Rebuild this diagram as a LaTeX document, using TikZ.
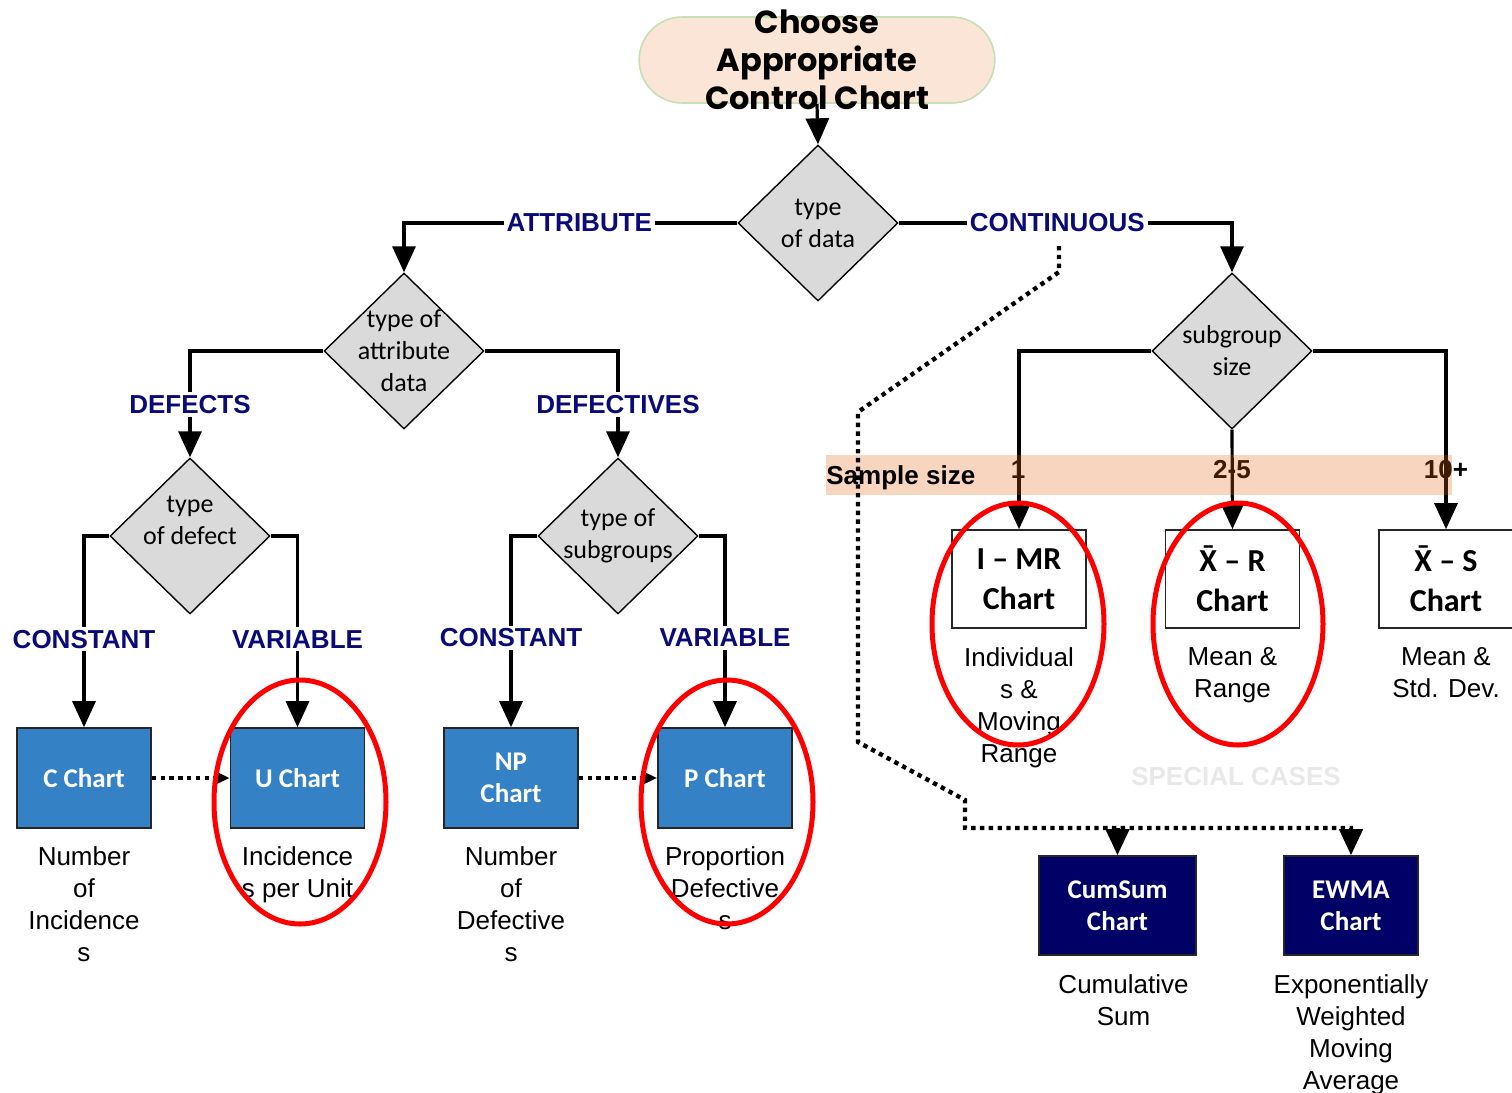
\documentclass[tikz,border=0pt]{standalone}
\usepackage{fontspec}
\setmainfont{Liberation Sans}
\newfontfamily\calfont{Carlito}
\newfontfamily\titlefont{Poppins}
\usepackage{xcolor}
\usepackage{tikz}
\usetikzlibrary{arrows.meta,positioning,shapes.geometric,shapes.misc}
\definecolor{peach}{HTML}{FBE5D6}
\definecolor{palegreen}{HTML}{C5E0B4}
\definecolor{decgray}{HTML}{DADADA}
\definecolor{chartblue}{HTML}{3481C6}
\definecolor{deepnavy}{HTML}{000066}
\definecolor{labelnavy}{HTML}{0A0A78}
\definecolor{bandorange}{HTML}{E2640F}
\newcommand{\xbar}{\accent"AF X}

\begin{document}
\begin{tikzpicture}[
    x=0.5pt, y=-0.5pt,
    >={Triangle[width=11.5pt,length=13pt]},
    conn/.style={draw, line width=1.6pt},
    dots/.style={draw, line width=2.2pt, dash pattern=on 2.2pt off 2.2pt},
    decision/.style={diamond, draw, line width=0.7pt, fill=decgray, minimum width=80pt, minimum height=78pt, inner sep=0},
    dectext/.style={font=\calfont\fontsize{13}{16}\selectfont, align=center},
    titletext/.style={font=\titlefont\bfseries\fontsize{16}{19}\selectfont, align=center},
    cond/.style={fill=white, inner sep=1.5pt, text=labelnavy, font=\bfseries\fontsize{13}{15}\selectfont},
    chartbox/.style={rectangle, draw=black!85, line width=0.8pt, minimum width=67pt, minimum height=50pt, align=center, inner sep=0},
    attrchart/.style={chartbox, fill=chartblue, text=white, font=\calfont\bfseries\fontsize{13.5}{16}\selectfont},
    varchart/.style={chartbox, fill=white, minimum height=49pt, font=\calfont\bfseries\fontsize{16}{20}\selectfont},
    specchart/.style={chartbox, fill=deepnavy, minimum height=49.5pt, text=white, font=\calfont\bfseries\fontsize{13.5}{16}\selectfont},
    note/.style={align=center, inner sep=0, font=\fontsize{13}{16}\selectfont},
    sizetext/.style={inner sep=0, font=\bfseries\fontsize{13}{15}\selectfont},
    ring/.style={ellipse, draw=red, line width=2.5pt, inner sep=0, minimum width=86pt, minimum height=122pt}]
\useasboundingbox (0,0) rectangle (1512,1093);

\node[rounded rectangle, draw=palegreen, line width=0.8pt, fill=peach, minimum width=184.5pt, minimum height=43pt,
      label={[titletext]center:Choose\\Appropriate\\Control Chart}] (start) at (817,60) {};

\node[decision, label={[dectext]center:type\\of data}] (dtype) at (818,223) {};
\node[decision, label={[dectext]center:type of\\attribute\\data}] (dattr) at (404,351) {};
\node[decision, label={[dectext]center:subgroup\\size}] (dsize) at (1232,351) {};
\node[decision, label={[dectext, yshift=8pt]center:type\\of defect}] (ddefect) at (190,536) {};
\node[decision, label={[dectext]center:type of\\subgroups}] (dsubgrp) at (618,536) {};

\node[attrchart] (cchart) at (84,778) {C Chart};
\node[attrchart] (uchart) at (297.5,778) {U Chart};
\node[attrchart] (npchart) at (511,778) {NP\\Chart};
\node[attrchart] (pchart) at (725,778) {P Chart};
\node[varchart] (imr) at (1019,579) {I – MR\\Chart};
\node[varchart] (xr) at (1232.5,579) {\xbar{} – R\\Chart};
\node[varchart] (xs) at (1446,579) {\xbar{} – S\\Chart};
\node[specchart, minimum width=78.5pt] (cumsum) at (1117.5,905.5) {CumSum\\Chart};
\node[specchart] (ewma) at (1351,905.5) {EWMA\\Chart};

\node[note, below=8.5pt of cchart] (ncchart) {Number\\of\\Incidence\\s};
\node[note, below=8.5pt of uchart] (nuchart) {Incidence\\s per Unit};
\node[note, below=8.5pt of npchart] (nnpchart) {Number\\of\\Defective\\s};
\node[note, below=8.5pt of pchart] (npchartn) {Proportion\\Defective\\s};
\node[note, below=9pt of imr] (nimr) {Individual\\s \&\\Moving\\Range};
\node[note, below=9pt of xr] (nxr) {Mean \&\\Range};
\node[note, below=9pt of xs] (nxs) {Mean \&\\Std. Dev.};
\node[note, below=9pt of cumsum, xshift=3pt] (ncumsum) {Cumulative\\Sum};
\node[note, below=9pt of ewma] (newma) {Exponentially\\Weighted\\Moving\\Average};

\path[conn, ->] (start.south) -- (dtype.north);
\path[conn, ->] (dtype.west) -| node[cond, pos=0.237] (lattr) {ATTRIBUTE} (dattr.north);
\path[conn, ->] (dtype.east) -| node[cond, pos=0.238] (lcont) {CONTINUOUS} (dsize.north);
\path[conn, ->] (dattr.west) -| node[cond, pos=0.752] (ldefects) {DEFECTS} (ddefect.north);
\path[conn, ->] (dattr.east) -| node[cond, pos=0.752] (ldefectives) {DEFECTIVES} (dsubgrp.north);
\path[conn, ->] (ddefect.west) -| node[cond, pos=0.77] (lconsta) {CONSTANT} (cchart.north);
\path[conn, ->] (ddefect.east) -| node[cond, pos=0.77] (lvara) {VARIABLE} (uchart.north);
\path[conn, ->] (dsubgrp.west) -| node[cond, pos=0.766] (lconstb) {CONSTANT} (npchart.north);
\path[conn, ->] (dsubgrp.east) -| node[cond, pos=0.766] (lvarb) {VARIABLE} (pchart.north);
\path[conn, ->] (dsize.west) -| (imr.north);
\path[conn, ->] (dsize.south) -- (xr.north);
\path[conn, ->] (dsize.east) -| (xs.north);

\path[dots, -{Triangle[width=6pt,length=7pt]}] (cchart) -- (uchart);
\path[dots, -{Triangle[width=6pt,length=7pt]}] (npchart) -- (pchart);

\node[sizetext] (sz1) at (1018,470) {1};
\node[sizetext] (sz25) at (1232,470) {2-5};
\node[sizetext] (sz10) at (1446,470) {10+};
\node[fill=bandorange, fill opacity=0.27, minimum width=313pt, minimum height=20pt, inner sep=0] (band) at (1139,475) {};
\node[sizetext, anchor=west] (sslabel) at (826,478) {Sample size};

\coordinate (dstart) at (1059,246);
\coordinate (k1) at (1059,272);
\coordinate (k2) at (858,412);
\coordinate (k3) at (858,742);
\coordinate (k4) at (965,800);
\coordinate (split) at (965,828);
\path[dots, ->] (dstart) -- (k1) -- (k2) -- (k3) -- (k4) -- (split) -| (ewma.north);
\path[dots, ->] (split -| cumsum.north) -- (cumsum.north);

\node[sizetext, text=black!9] (special) at (1236,777) {SPECIAL CASES};

\node[ring] (ringu) at (300,802) {};
\node[ring] (ringp) at (727,802) {};
\node[ring, minimum height=121pt] (ringimr) at (1018,624) {};
\node[ring, minimum width=85pt, minimum height=121pt] (ringxr) at (1238,624) {};

\end{tikzpicture}
\end{document}
